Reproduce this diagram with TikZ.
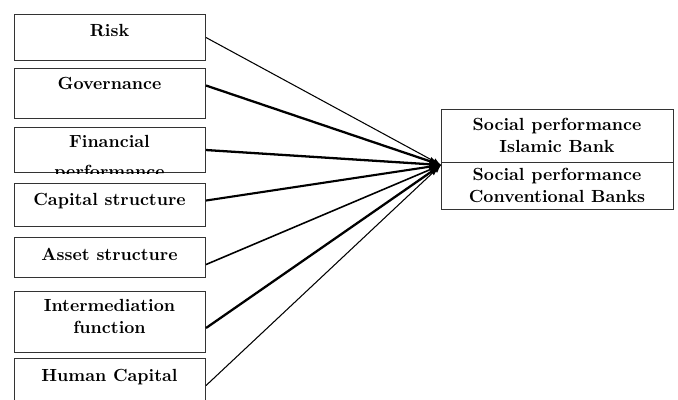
\documentclass[tikz,border=0pt]{standalone}
\usepackage{tikz}
\usetikzlibrary{arrows,positioning}

\begin{document}
\begin{tikzpicture}[x=0.02cm, y=-0.02cm]
	\tikzstyle{every node} = [font=\bfseries]
	\tikzstyle{box} = [draw = black!80, line width=0.6pt, anchor=north west, minimum width=3.82cm, inner sep=0pt]
	\tikzstyle{res} = [box, minimum width=4.64cm]
	\tikzstyle{lbl} = [draw = none, align=center, anchor=base, inner sep=0pt]
	\tikzstyle{link} = [-latex, black]
\useasboundingbox (0,0) rectangle (678,399);
% independent variables
\node[box, minimum height=0.92cm] (risk) at (14,14) {};
\node[box, minimum height=1.00cm] (gov) at (14,68) {};
\node[box, minimum height=0.90cm] (fin) at (14,127) {};
\node[box, minimum height=0.86cm] (cap) at (14,183) {};
\node[box, minimum height=0.80cm] (asset) at (14,237) {};
\node[box, minimum height=1.22cm] (inter) at (14,291) {};
\node[box, minimum height=1.08cm] (human) at (14,358) {};
% dependent variables
\node[res, minimum height=1.06cm] (isl) at (441,109) {};
\node[res, minimum height=0.94cm] (conv) at (441,162) {};
\coordinate (tip) at (441,165);

	% base = last line
	\node[lbl] at (109.5,36) {Risk};
	\node[lbl] at (109.5,89) {Governance};
	\begin{scope}
	\clip (fin.south west) rectangle (fin.north east);
	\node[lbl] at (109.5,177) {Financial\\[0.16cm]performance};
	\end{scope}
	\node[lbl] at (109.5,205) {Capital structure};
	\node[lbl] at (109.5,260) {Asset structure};
	\node[lbl] at (109.5,333) {Intermediation\\function};
	\node[lbl] at (109.5,381) {Human Capital};
	\node[lbl] at (557,152) {Social performance\\Islamic Bank};
	\node[lbl] at (557,202) {Social performance\\Conventional Banks};

	\path[draw, link, line width=0.6pt] (risk.east) -- (tip);
	\path[draw, link, line width=1.3pt] ([yshift=0.16cm]gov.east) -- (tip);
	\path[draw, link, line width=1.3pt] (fin.east) -- (tip);
	\path[draw, link, line width=1.2pt] ([yshift=0.09cm]cap.east) -- (tip);
	\path[draw, link, line width=0.9pt] ([yshift=-0.14cm]asset.east) -- (tip);
	\path[draw, link, line width=1.3pt] ([yshift=-0.12cm]inter.east) -- (tip);
	\path[draw, link, line width=0.6pt] (human.east) -- (tip);
\end{tikzpicture}
\end{document}
